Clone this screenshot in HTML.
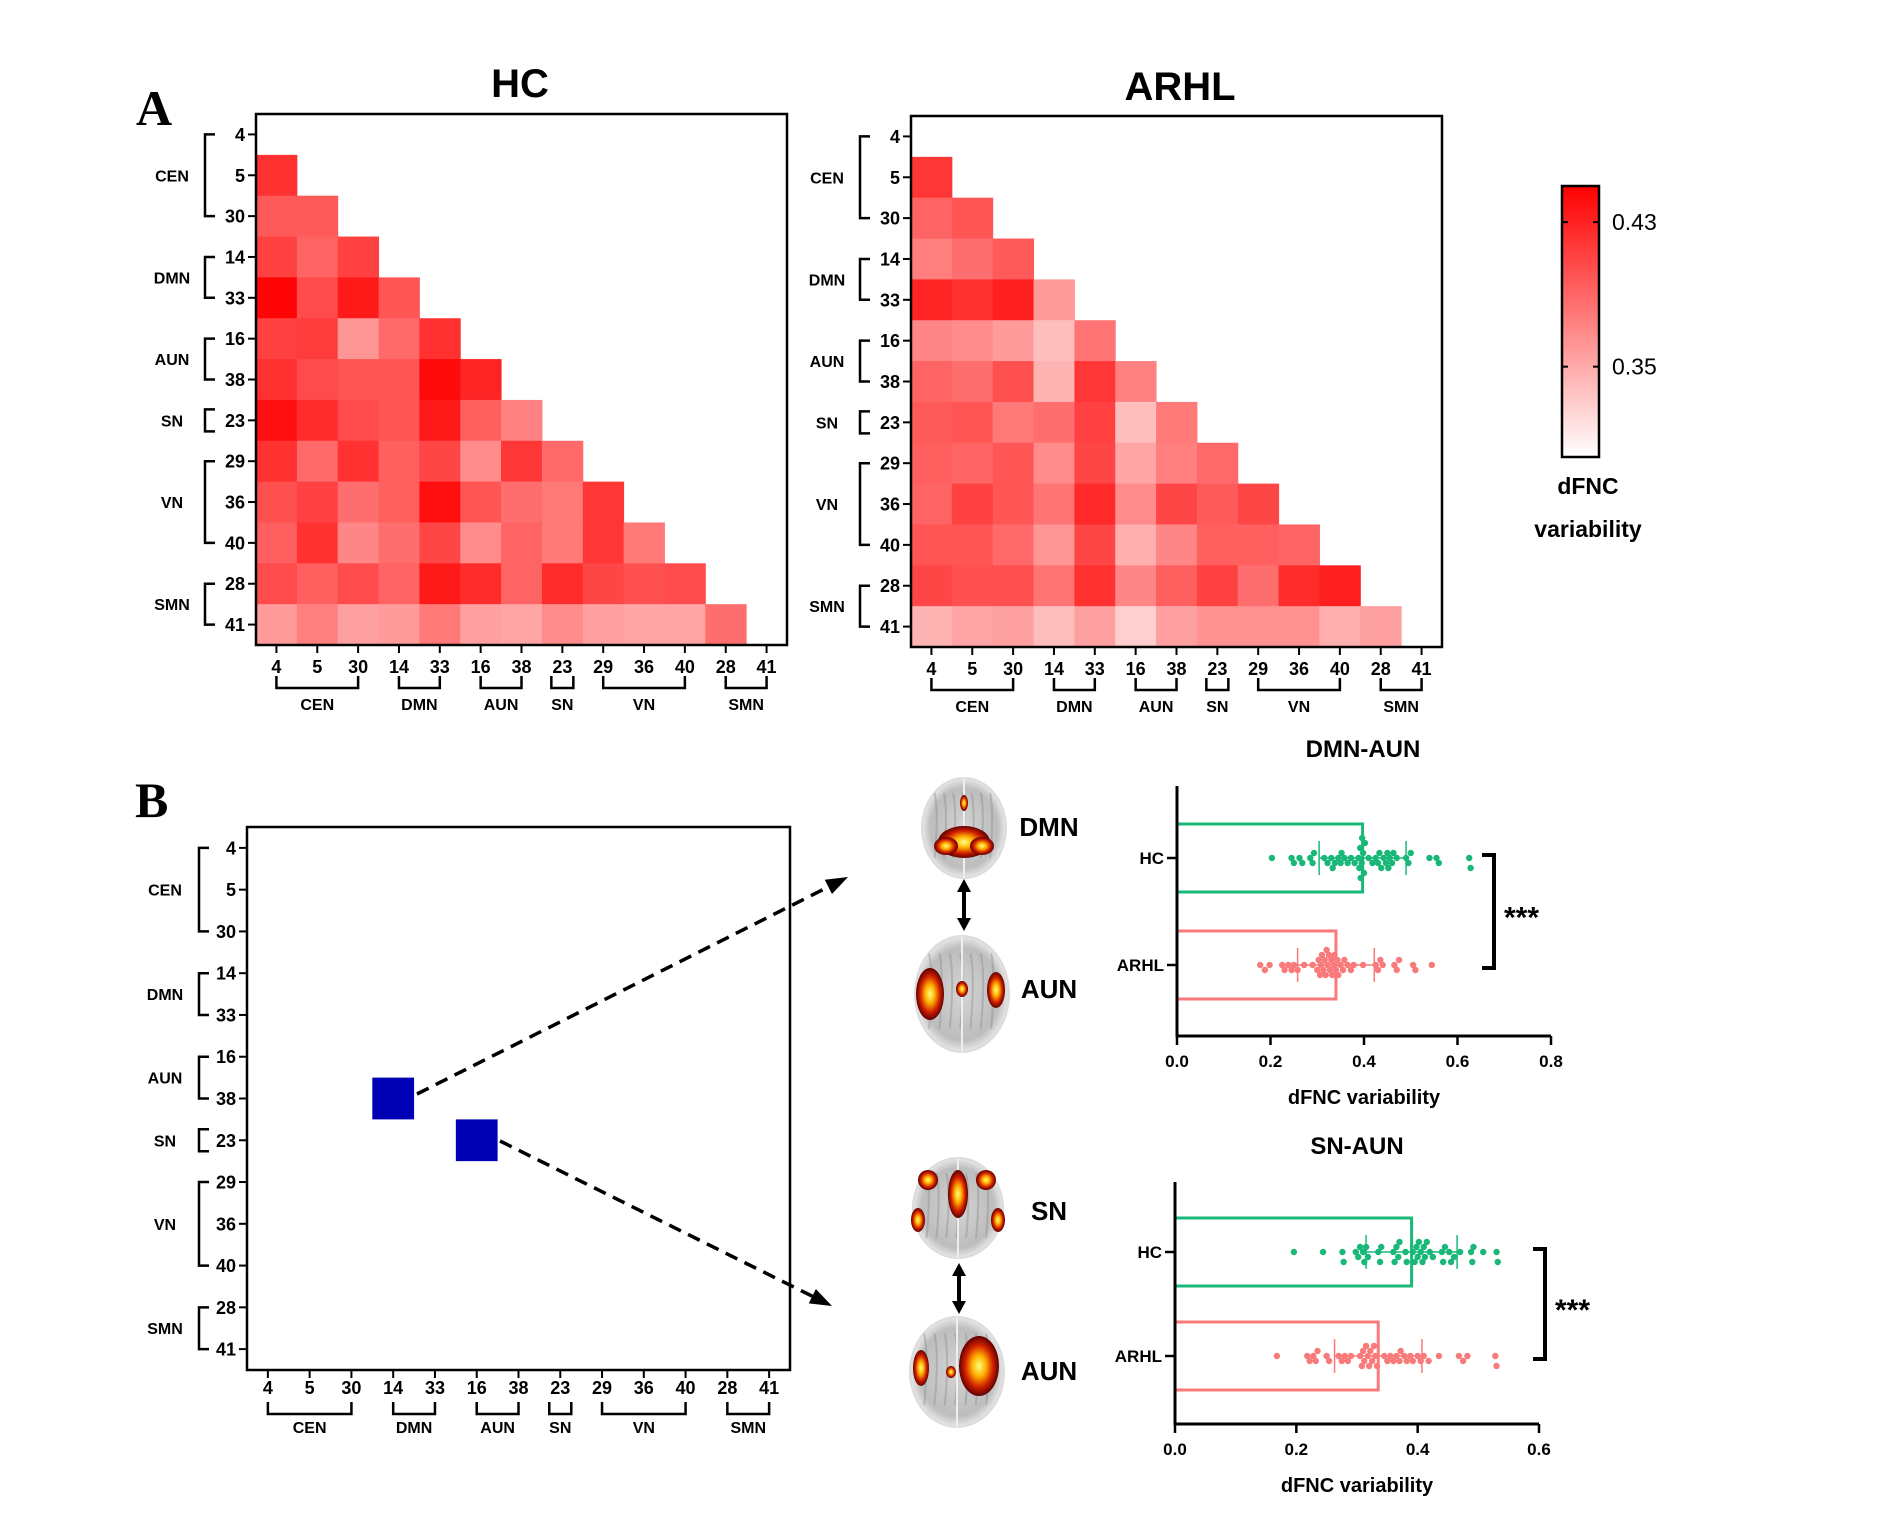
<!DOCTYPE html>
<html><head><meta charset="utf-8"><style>
html,body{margin:0;padding:0;background:#fff;}
svg{display:block;font-family:"Liberation Sans",Arial,sans-serif;}
</style></head><body>
<svg id="fig" width="1878" height="1535" viewBox="0 0 1878 1535" xmlns="http://www.w3.org/2000/svg">
<defs>
<linearGradient id="cbgrad" x1="0" y1="1" x2="0" y2="0">
<stop offset="0" stop-color="#ffffff"/><stop offset="1" stop-color="#ff0000"/>
</linearGradient>
<radialGradient id="hot" cx="0.5" cy="0.5" r="0.5">
<stop offset="0" stop-color="#ffff80"/><stop offset="0.35" stop-color="#ffb000"/><stop offset="0.7" stop-color="#d02000"/><stop offset="1" stop-color="#600000"/>
</radialGradient>
<radialGradient id="brainfill" cx="0.5" cy="0.5" r="0.5">
<stop offset="0" stop-color="#d4d4d4"/><stop offset="0.8" stop-color="#bdbdbd"/><stop offset="1" stop-color="#e8e8e8"/>
</radialGradient>
</defs>
<g id="root"></g>
</svg>
<script>
const rowLabels = ["4","5","30","14","33","16","38","23","29","36","40","28","41"];
const groupNames = ["CEN","DMN","AUN","SN","VN","SMN"];
const groupStart = [0,3,5,7,8,11];
const groupEnd = [2,4,6,7,10,12];
const colorMin = 0.30;
const colorMax = 0.45;
const colorTicks = [0.43, 0.35];
const hcMatrix = [
[],
[.421],
[.397,.397],
[.412,.391,.412],
[.447,.406,.435,.400],
[.412,.415,.362,.388,.421],
[.421,.406,.400,.400,.444,.429],
[.441,.424,.406,.400,.435,.394,.374],
[.421,.388,.421,.394,.409,.368,.418,.388],
[.403,.412,.385,.394,.441,.400,.385,.379,.418],
[.394,.421,.371,.385,.409,.368,.391,.379,.418,.379],
[.406,.394,.406,.391,.435,.424,.391,.424,.409,.403,.406],
[.359,.376,.356,.359,.379,.356,.353,.368,.356,.353,.353,.385]
];
const arhlMatrix = [
[],
[.418],
[.391,.400],
[.376,.385,.397],
[.429,.421,.432,.359],
[.371,.368,.359,.338,.382],
[.391,.385,.403,.344,.418,.374],
[.397,.400,.379,.385,.412,.338,.379],
[.394,.391,.400,.368,.409,.353,.376,.388],
[.391,.412,.400,.382,.426,.368,.409,.397,.409],
[.400,.400,.388,.362,.409,.347,.371,.394,.394,.391],
[.409,.403,.403,.382,.421,.371,.394,.412,.385,.424,.432],
[.344,.353,.356,.338,.356,.329,.356,.365,.365,.365,.347,.356]
];
const sigRows = [6,7];
const sigCols = [3,5];
const groups = ["HC","ARHL"];
const dmnAunMeans = [0.397,0.340];
const dmnAunSD = [0.093,0.082];
const dmnAunHC = [0.203,0.245,0.250,0.262,0.268,0.285,0.290,0.293,0.315,0.322,0.330,0.333,0.338,0.345,0.350,0.352,0.358,0.365,0.372,0.380,0.388,0.390,0.392,0.393,0.395,0.396,0.398,0.400,0.402,0.410,0.418,0.425,0.430,0.433,0.437,0.442,0.447,0.450,0.452,0.455,0.460,0.463,0.470,0.490,0.495,0.500,0.540,0.555,0.560,0.625,0.628];
const dmnAunARHL = [0.178,0.188,0.198,0.225,0.230,0.238,0.245,0.250,0.258,0.272,0.290,0.300,0.303,0.306,0.308,0.310,0.313,0.316,0.318,0.320,0.322,0.325,0.327,0.330,0.332,0.335,0.337,0.340,0.343,0.345,0.350,0.355,0.358,0.365,0.372,0.378,0.398,0.425,0.430,0.435,0.440,0.465,0.470,0.475,0.505,0.510,0.545];
const dmnAunTicks = [0.0,0.2,0.4,0.6,0.8];
const snAunMeans = [0.390,0.335];
const snAunSD = [0.075,0.072];
const snAunHC = [0.196,0.244,0.276,0.278,0.298,0.302,0.305,0.310,0.312,0.315,0.318,0.335,0.338,0.340,0.360,0.362,0.365,0.368,0.370,0.380,0.382,0.392,0.395,0.398,0.400,0.402,0.405,0.408,0.410,0.412,0.415,0.420,0.425,0.440,0.442,0.445,0.452,0.455,0.460,0.470,0.488,0.490,0.492,0.508,0.530,0.532];
const snAunARHL = [0.168,0.218,0.222,0.228,0.232,0.235,0.250,0.254,0.270,0.275,0.280,0.285,0.290,0.305,0.308,0.310,0.312,0.315,0.318,0.320,0.322,0.325,0.328,0.330,0.333,0.345,0.350,0.355,0.360,0.365,0.370,0.372,0.378,0.382,0.388,0.392,0.400,0.405,0.410,0.418,0.435,0.468,0.475,0.482,0.528,0.530];
const snAunTicks = [0.0,0.2,0.4,0.6];

const NS = "http://www.w3.org/2000/svg";
const root = document.getElementById('root');
function mk(tag, attrs, parent, text){
  const e = document.createElementNS(NS, tag);
  for (const k in attrs) e.setAttribute(k, attrs[k]);
  if (text !== undefined) e.textContent = text;
  (parent || root).appendChild(e);
  return e;
}
function grp(name, parent){
  const g = mk('g', {}, parent);
  
  
  return g;
}
function heatColor(v){
  let t = (v - colorMin) / (colorMax - colorMin);
  t = Math.max(0, Math.min(1, t));
  const c = Math.round(255 * (1 - t));
  return `rgb(255,${c},${c})`;
}
function matrixAxes(g, x0, y0, size, off){
  const cell = size / 13;
  const yc = i => y0 + (i + 0.5) * cell;
  const xc = i => x0 + (i + 0.5) * cell;
  rowLabels.forEach((lab, i) => {
    mk('line', {x1:x0-8, y1:yc(i), x2:x0, y2:yc(i), stroke:'#000', 'stroke-width':2}, g);
    const t = mk('text', {x:x0-11, y:yc(i)+6.5, 'text-anchor':'end', 'font-size':18, 'font-weight':'bold'}, g, lab);
    
    
    mk('line', {x1:xc(i), y1:y0+size, x2:xc(i), y2:y0+size+8, stroke:'#000', 'stroke-width':2}, g);
    const tx = mk('text', {x:xc(i), y:y0+size+off.xt, 'text-anchor':'middle', 'font-size':18, 'font-weight':'bold'}, g, lab);
    
    
  });
  groupNames.forEach((gn, k) => {
    let a = yc(groupStart[k]), b = yc(groupEnd[k]);
    if (groupStart[k] === groupEnd[k]) { a -= 11; b += 11; }
    const bx = x0 - off.bx;
    mk('path', {d:`M${bx+10},${a} H${bx} V${b} H${bx+10}`, fill:'none', stroke:'#000', 'stroke-width':2.5}, g);
    const t = mk('text', {x:x0-off.gl, y:(a+b)/2+6, 'text-anchor':'middle', 'font-size':16, 'font-weight':'bold'}, g, gn);
    
    
    let c = xc(groupStart[k]), d = xc(groupEnd[k]);
    if (groupStart[k] === groupEnd[k]) { c -= 11; d += 11; }
    const by = y0 + size + off.by;
    mk('path', {d:`M${c},${by} V${by+12} H${d} V${by}`, fill:'none', stroke:'#000', 'stroke-width':2.5}, g);
    const tx = mk('text', {x:(c+d)/2, y:y0+size+off.gx, 'text-anchor':'middle', 'font-size':16, 'font-weight':'bold'}, g, gn);
    
    
  });
}
function heatmap(name, x0, y0, size, data, title, tx, ty){
  const g = grp(name);
  const cell = size / 13;
  data.forEach((row, i) => {
    row.forEach((v, j) => {
      const r = mk('rect', {x:x0+j*cell, y:y0+i*cell, width:cell+0.5, height:cell+0.5, fill:heatColor(v)}, g);
      
      
    });
  });
  const fr = mk('rect', {x:x0, y:y0, width:size, height:size, fill:'none', stroke:'#000', 'stroke-width':2.5}, g);
  
  
  matrixAxes(g, x0, y0, size, {xt:28, bx:51, gl:84, by:31, gx:65});
  const t = mk('text', {x:tx, y:ty, 'text-anchor':'middle', 'font-size':40, 'font-weight':'bold'}, g, title);
  
  
}
heatmap('hc-matrix', 256, 114, 531, hcMatrix, 'HC', 520, 97);
heatmap('arhl-matrix', 911, 116, 531, arhlMatrix, 'ARHL', 1180, 100);

let pl = mk('text', {x:136, y:125, 'font-size':50, 'font-weight':'bold', 'font-family':'Liberation Serif, serif'}, root, 'A');


pl = mk('text', {x:135, y:817, 'font-size':50, 'font-weight':'bold', 'font-family':'Liberation Serif, serif'}, root, 'B');



(function(){
  const g = grp('colorbar');
  const x = 1562, y = 186, w = 37, h = 271;
  mk('rect', {x, y, width:w, height:h, fill:'url(#cbgrad)', stroke:'#000', 'stroke-width':2.5}, g);
  const sy = v => y + h - (v - colorMin) / (colorMax - colorMin) * h;
  colorTicks.forEach(v => {
    mk('line', {x1:x, y1:sy(v), x2:x+6, y2:sy(v), stroke:'#000', 'stroke-width':2}, g);
    mk('line', {x1:x+w-6, y1:sy(v), x2:x+w, y2:sy(v), stroke:'#000', 'stroke-width':2}, g);
    const t = mk('text', {x:x+w+13, y:sy(v)+8, 'font-size':23}, g, v.toFixed(2));
    
    
  });
  let t = mk('text', {x:1588, y:494, 'text-anchor':'middle', 'font-size':23, 'font-weight':'bold'}, g, 'dFNC');
  
  
  t = mk('text', {x:1588, y:537, 'text-anchor':'middle', 'font-size':23, 'font-weight':'bold'}, g, 'variability');
  
  
})();

(function(){
  const g = grp('significant-matrix');
  const x0 = 247, y0 = 827, size = 543, cell = size/13;
  sigRows.forEach((r, k) => {
    const s = mk('rect', {x:x0+sigCols[k]*cell, y:y0+r*cell, width:cell, height:cell, fill:'#0000b4'}, g);
    
    
  });
  mk('rect', {x:x0, y:y0, width:size, height:size, fill:'none', stroke:'#000', 'stroke-width':2.5}, g);
  matrixAxes(g, x0, y0, size, {xt:24, bx:48, gl:82, by:32, gx:63});
  function arrow(x1,y1,x2,y2,name){
    const a = grp(name);
    const ang = Math.atan2(y2-y1, x2-x1);
    const L = 22;
    const bx = x2 - L*Math.cos(ang), by = y2 - L*Math.sin(ang);
    mk('line', {x1, y1, x2:bx, y2:by, stroke:'#000', 'stroke-width':3.5, 'stroke-dasharray':'13 8'}, a);
    const px = Math.sin(ang)*8, py = -Math.cos(ang)*8;
    mk('polygon', {points:`${x2},${y2} ${bx+px},${by+py} ${bx-px},${by-py}`, fill:'#000'}, a);
  }
  arrow(417,1094,848,877,'arrow-dmn-aun');
  arrow(500,1141,832,1306,'arrow-sn-aun');
})();

function brain(name, cx, cy, rx, ry, blobs){
  const g = grp(name);
  mk('ellipse', {cx, cy, rx, ry, fill:'url(#brainfill)', stroke:'#dcdcdc', 'stroke-width':2}, g);
  for (let i=0;i<7;i++){
    mk('path', {d:`M${cx-rx*0.7+i*rx*0.22},${cy-ry*0.7} q${rx*0.1},${ry*0.4} 0,${ry*1.3}`, fill:'none', stroke:'#8a8a8a', 'stroke-width':2, opacity:0.4}, g);
  }
  mk('line', {x1:cx, y1:cy-ry, x2:cx, y2:cy+ry, stroke:'#eee', 'stroke-width':2}, g);
  blobs.forEach(b => mk('ellipse', {cx:cx+b[0], cy:cy+b[1], rx:b[2], ry:b[3], fill:'url(#hot)'}, g));
}
brain('brain-dmn', 964, 828, 42, 50, [[0,14,26,16],[-18,18,12,9],[18,18,12,9],[0,-25,4,8]]);
brain('brain-aun-1', 962, 994, 47, 58, [[-32,0,14,26],[34,-4,9,18],[0,-5,6,8]]);
brain('brain-sn', 958, 1208, 45, 50, [[0,-14,10,24],[-30,-28,10,10],[28,-28,10,10],[-40,12,7,12],[40,12,7,12]]);
brain('brain-aun-2', 957, 1372, 47, 55, [[22,-6,20,30],[-36,-4,8,18],[-6,0,5,6]]);
[['DMN',1049,836],['AUN',1049,998],['SN',1049,1220],['AUN',1049,1380]].forEach(l => {
  const t = mk('text', {x:l[1], y:l[2], 'text-anchor':'middle', 'font-size':26, 'font-weight':'bold'}, root, l[0]);
  
  
});
function dbl(x, y1, y2, name){
  const g = grp(name);
  mk('line', {x1:x, y1:y1+10, x2:x, y2:y2-10, stroke:'#000', 'stroke-width':4}, g);
  mk('polygon', {points:`${x},${y1} ${x-7},${y1+13} ${x+7},${y1+13}`, fill:'#000'}, g);
  mk('polygon', {points:`${x},${y2} ${x-7},${y2-13} ${x+7},${y2-13}`, fill:'#000'}, g);
}
dbl(964, 879, 931, 'double-arrow-1');
dbl(959, 1263, 1314, 'double-arrow-2');

function barChart(cfg){
  const g = grp(cfg.name);
  const sx = v => cfg.x0 + (v / cfg.xmax) * (cfg.x1 - cfg.x0);
  const colors = ['#19b879', '#f87a7a'];
  const dataSets = [cfg.hc, cfg.arhl];
  groups.forEach((gn, k) => {
    const yc = cfg.rows[k];
    const bar = mk('rect', {x:cfg.x0, y:yc-cfg.hh, width:sx(cfg.means[k])-cfg.x0, height:2*cfg.hh, fill:'none', stroke:colors[k], 'stroke-width':3}, g);
    
    
    const placed = [];
    const d = 5.5, r = 3.2;
    dataSets[k].slice().sort((a,b)=>a-b).forEach(v => {
      const x = sx(v);
      let off = 0;
      for (let s = 0; s < 40; s++){
        off = s===0 ? 0 : (s % 2 ? 1 : -1) * Math.ceil(s/2) * 5;
        if (!placed.some(p => (p[0]-x)**2 + (p[1]-off)**2 < d*d)) break;
      }
      placed.push([x, off]);
      const c = mk('circle', {cx:x, cy:yc+off, r, fill:colors[k]}, g);
      
      
    });
    const lo = sx(cfg.means[k]-cfg.sd[k]), hi = sx(cfg.means[k]+cfg.sd[k]);
    mk('line', {x1:lo, y1:yc, x2:hi, y2:yc, stroke:colors[k], 'stroke-width':1.5}, g);
    mk('line', {x1:lo, y1:yc-17, x2:lo, y2:yc+17, stroke:colors[k], 'stroke-width':1.5}, g);
    mk('line', {x1:hi, y1:yc-17, x2:hi, y2:yc+17, stroke:colors[k], 'stroke-width':1.5}, g);
    mk('line', {x1:cfg.x0-10, y1:yc, x2:cfg.x0, y2:yc, stroke:'#000', 'stroke-width':2.5}, g);
    const t = mk('text', {x:cfg.x0-13, y:yc+6, 'text-anchor':'end', 'font-size':17, 'font-weight':'bold'}, g, gn);
    
    
  });
  mk('path', {d:`M${cfg.x0},${cfg.ytop} V${cfg.ybot} H${cfg.x1}`, fill:'none', stroke:'#000', 'stroke-width':3}, g);
  cfg.ticks.forEach(v => {
    mk('line', {x1:sx(v), y1:cfg.ybot, x2:sx(v), y2:cfg.ybot+9, stroke:'#000', 'stroke-width':2.5}, g);
    const t = mk('text', {x:sx(v), y:cfg.ybot+31, 'text-anchor':'middle', 'font-size':17, 'font-weight':'bold'}, g, v.toFixed(1));
    
    
  });
  let t = mk('text', {x:(cfg.x0+cfg.x1)/2, y:cfg.ybot+68, 'text-anchor':'middle', 'font-size':20, 'font-weight':'bold'}, g, 'dFNC variability');
  
  
  t = mk('text', {x:cfg.tx, y:cfg.ty, 'text-anchor':'middle', 'font-size':24, 'font-weight':'bold'}, g, cfg.title);
  
  
  const bk = cfg.bx;
  mk('path', {d:`M${bk-12},${cfg.rows[0]-3} H${bk} V${cfg.rows[1]+3} H${bk-12}`, fill:'none', stroke:'#000', 'stroke-width':4}, g);
  t = mk('text', {x:bk+10, y:(cfg.rows[0]+cfg.rows[1])/2+16, 'font-size':30, 'font-weight':'bold'}, g, '***');
  
  
}
barChart({name:'chart-dmn-aun', x0:1177, x1:1551, xmax:0.8, ytop:786, ybot:1036, rows:[858,965], hh:34,
  means:dmnAunMeans, sd:dmnAunSD, hc:dmnAunHC, arhl:dmnAunARHL, ticks:dmnAunTicks, title:'DMN-AUN', tx:1363, ty:757, bx:1494});
barChart({name:'chart-sn-aun', x0:1175, x1:1539, xmax:0.6, ytop:1182, ybot:1424, rows:[1252,1356], hh:34,
  means:snAunMeans, sd:snAunSD, hc:snAunHC, arhl:snAunARHL, ticks:snAunTicks, title:'SN-AUN', tx:1357, ty:1154, bx:1545});
</script>
</body></html>
